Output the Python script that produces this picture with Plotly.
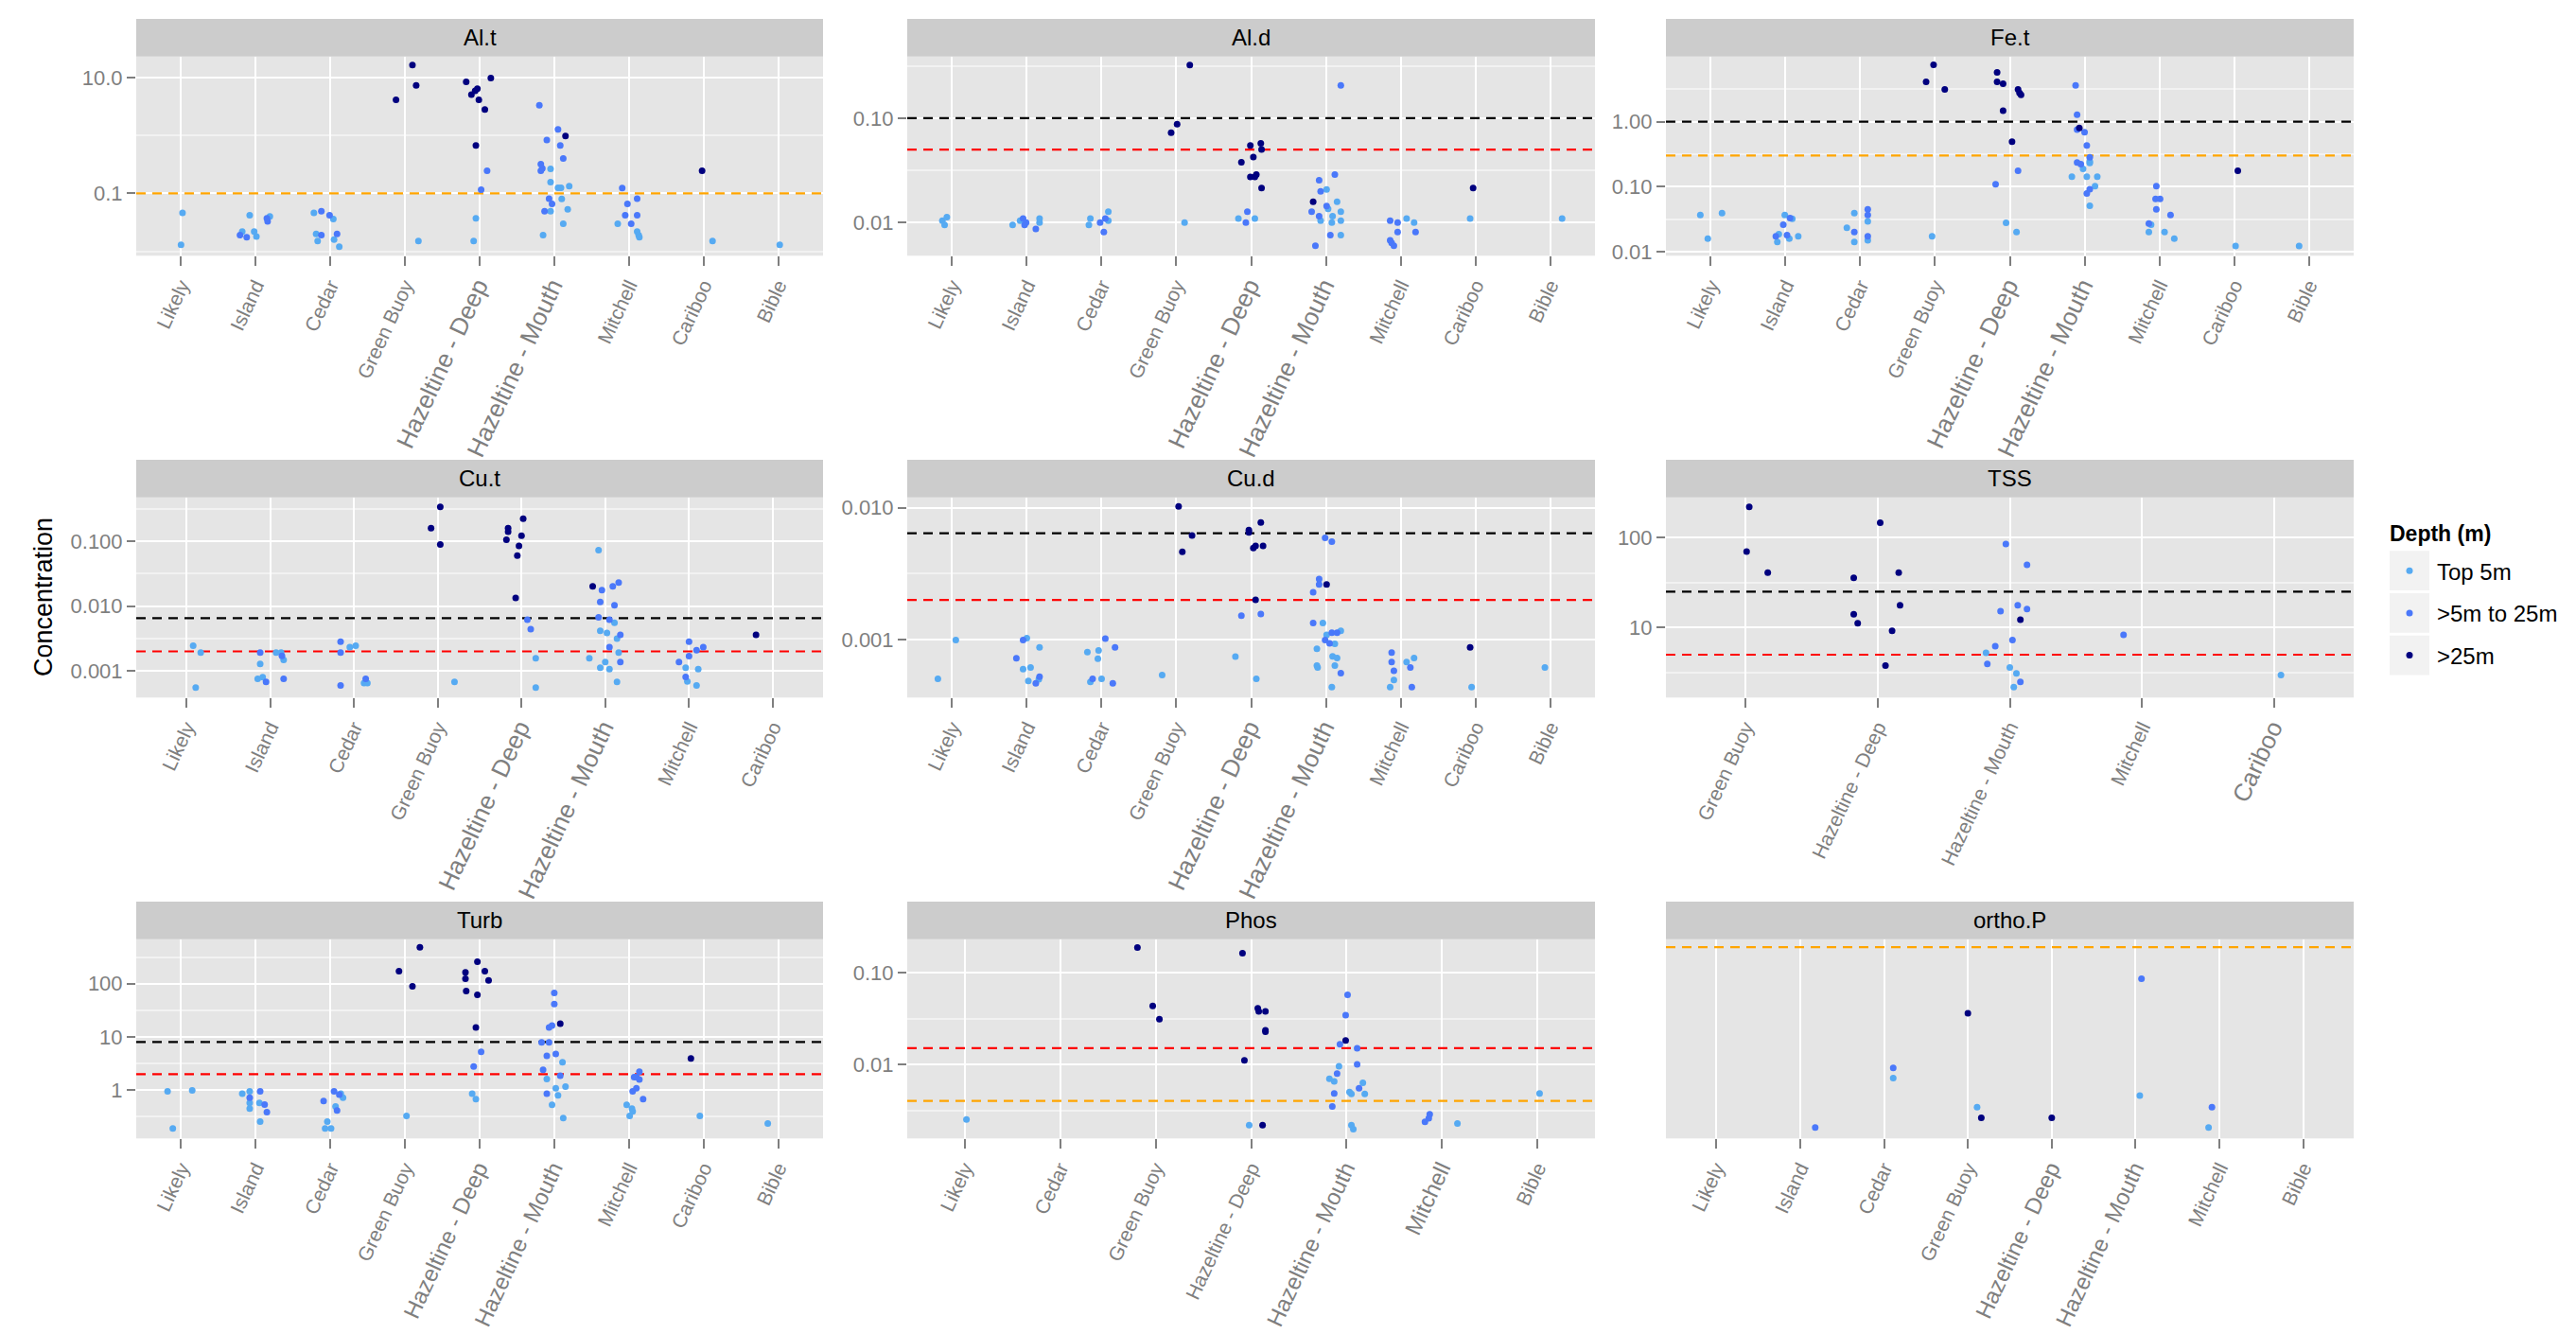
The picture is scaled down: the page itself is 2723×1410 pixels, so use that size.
import plotly.graph_objects as go

W, H = 2723, 1410
FONT = "Liberation Sans, Arial, sans-serif"
GRAY = "#7F7F7F"

# ---------------- data ----------------
SITES = ["Likely", "Island", "Cedar", "Green Buoy", "Hazeltine - Deep",
         "Hazeltine - Mouth", "Mitchell", "Cariboo", "Bible"]
DEPTHS = ["Top 5m", ">5m to 25m", ">25m"]
DEPTH_COLORS = ["#56AAF2", "#4A78FA", "#00007F"]

CATS_AL_T = SITES
CATS_AL_D = SITES
CATS_FE_T = SITES
CATS_CU_T = SITES[:8]
CATS_CU_D = SITES
CATS_TSS = ["Green Buoy", "Hazeltine - Deep", "Hazeltine - Mouth", "Mitchell", "Cariboo"]
CATS_TURB = SITES
CATS_PHOS = ["Likely", "Cedar", "Green Buoy", "Hazeltine - Deep", "Hazeltine - Mouth", "Mitchell", "Bible"]
CATS_ORTHO = ["Likely", "Island", "Cedar", "Green Buoy", "Hazeltine - Deep", "Hazeltine - Mouth", "Mitchell", "Bible"]

# points: (site index, jitter, value, depth index)
AL_T = [
    (0, 0.02, 0.046, 0), (0, 0.0, 0.013, 0),
    (1, -0.08, 0.042, 0), (1, -0.18, 0.022, 0), (1, -0.21, 0.019, 1), (1, -0.12, 0.0175, 1), (1, -0.02, 0.022, 0),
    (1, 0.01, 0.018, 0), (1, 0.15, 0.037, 1), (1, 0.16, 0.033, 1), (1, 0.19, 0.040, 0),
    (2, -0.22, 0.046, 0), (2, -0.12, 0.049, 1), (2, -0.01, 0.042, 1), (2, 0.04, 0.036, 0), (2, -0.19, 0.020, 0),
    (2, -0.12, 0.019, 1), (2, -0.17, 0.015, 0), (2, 0.05, 0.016, 0), (2, 0.09, 0.020, 1), (2, 0.12, 0.012, 0),
    (3, -0.12, 4.1, 2), (3, 0.10, 16.4, 2), (3, 0.15, 7.3, 2), (3, 0.18, 0.015, 0),
    (4, -0.18, 8.4, 2), (4, 0.15, 9.8, 2), (4, -0.03, 6.4, 2), (4, -0.06, 5.9, 2), (4, -0.11, 5.05, 2),
    (4, -0.01, 4.1, 2), (4, 0.07, 2.8, 2), (4, -0.05, 0.67, 2), (4, 0.10, 0.245, 1), (4, 0.02, 0.116, 1),
    (4, -0.05, 0.037, 0), (4, -0.08, 0.015, 0),
    (5, -0.20, 3.3, 1), (5, 0.05, 1.27, 1), (5, 0.15, 0.98, 2), (5, -0.10, 0.83, 1), (5, 0.08, 0.67, 1),
    (5, 0.12, 0.40, 1), (5, -0.18, 0.32, 1), (5, -0.16, 0.27, 1), (5, -0.18, 0.245, 1), (5, -0.05, 0.264, 0),
    (5, -0.05, 0.157, 0), (5, 0.05, 0.125, 0), (5, 0.09, 0.125, 0), (5, 0.20, 0.133, 0), (5, 0.10, 0.080, 0),
    (5, -0.07, 0.081, 1), (5, -0.03, 0.066, 1), (5, -0.13, 0.049, 1), (5, -0.05, 0.049, 0), (5, 0.18, 0.053, 0),
    (5, 0.12, 0.030, 0), (5, -0.15, 0.019, 0),
    (6, -0.09, 0.124, 1), (6, 0.11, 0.081, 1), (6, -0.02, 0.066, 1), (6, -0.05, 0.042, 1), (6, 0.11, 0.042, 1),
    (6, 0.03, 0.030, 1), (6, -0.15, 0.030, 0), (6, 0.11, 0.022, 0), (6, 0.13, 0.019, 0), (6, 0.14, 0.0175, 0),
    (7, -0.02, 0.245, 2), (7, 0.12, 0.015, 0),
    (8, 0.02, 0.013, 0),
]

AL_D = [
    (0, -0.13, 0.0104, 0), (0, -0.07, 0.0113, 0), (0, -0.10, 0.0095, 0),
    (1, -0.19, 0.0095, 0), (1, -0.09, 0.0104, 0), (1, -0.05, 0.0109, 1), (1, -0.03, 0.0095, 1), (1, -0.01, 0.0100, 1),
    (1, 0.12, 0.0087, 1), (1, 0.17, 0.0109, 0), (1, 0.17, 0.0100, 0),
    (2, -0.17, 0.0095, 0), (2, -0.15, 0.0109, 0), (2, -0.02, 0.0100, 1), (2, 0.03, 0.0081, 1), (2, 0.05, 0.0109, 1),
    (2, 0.09, 0.0127, 0), (2, 0.09, 0.0104, 0),
    (3, -0.07, 0.0728, 2), (3, 0.01, 0.0877, 2), (3, 0.18, 0.324, 2), (3, 0.11, 0.0100, 0),
    (4, -0.01, 0.0548, 2), (4, 0.13, 0.0575, 2), (4, 0.14, 0.0501, 2), (4, 0.03, 0.0425, 2), (4, -0.13, 0.0378, 2),
    (4, -0.01, 0.0274, 2), (4, 0.07, 0.0288, 2), (4, 0.05, 0.0274, 2), (4, 0.14, 0.0214, 2), (4, -0.05, 0.0127, 1),
    (4, -0.17, 0.0109, 0), (4, -0.07, 0.0100, 1), (4, 0.05, 0.0109, 0),
    (5, 0.20, 0.2065, 1), (5, 0.12, 0.0288, 1), (5, -0.09, 0.0254, 1), (5, 0.01, 0.0208, 0), (5, -0.07, 0.0199, 1),
    (5, -0.17, 0.0158, 2), (5, 0.15, 0.0158, 0), (5, 0.01, 0.0144, 1), (5, -0.19, 0.0127, 1), (5, 0.03, 0.0135, 0),
    (5, 0.20, 0.0127, 0), (5, -0.09, 0.0115, 1), (5, 0.09, 0.0115, 0), (5, -0.07, 0.0104, 0), (5, 0.08, 0.0100, 0),
    (5, 0.20, 0.0104, 0), (5, 0.06, 0.0076, 1), (5, 0.20, 0.0076, 0), (5, -0.14, 0.0060, 1),
    (6, -0.14, 0.0104, 1), (6, -0.04, 0.0100, 1), (6, 0.08, 0.0109, 0), (6, 0.18, 0.0100, 0), (6, -0.04, 0.0081, 1),
    (6, 0.20, 0.0081, 1), (6, -0.14, 0.00675, 1), (6, -0.12, 0.00638, 1), (6, -0.09, 0.0060, 1),
    (7, -0.03, 0.0214, 2), (7, -0.07, 0.0109, 0),
    (8, 0.16, 0.0109, 0),
]

FE_T = [
    (0, -0.14, 0.0366, 0), (0, -0.04, 0.0158, 0), (0, 0.15, 0.0391, 0),
    (1, -0.13, 0.0172, 1), (1, -0.09, 0.0186, 0), (1, -0.11, 0.0141, 0), (1, -0.03, 0.0260, 1), (1, -0.01, 0.0366, 0),
    (1, 0.02, 0.0180, 1), (1, 0.05, 0.0158, 0), (1, 0.06, 0.0328, 1), (1, 0.09, 0.0321, 0), (1, 0.17, 0.0172, 0),
    (2, -0.18, 0.0232, 0), (2, -0.08, 0.0201, 1), (2, -0.08, 0.0391, 0), (2, -0.08, 0.0141, 0), (2, 0.10, 0.0448, 1),
    (2, 0.10, 0.0366, 1), (2, 0.10, 0.0293, 0), (2, 0.10, 0.0172, 1), (2, 0.10, 0.0149, 0),
    (3, -0.12, 4.09, 2), (3, -0.02, 7.45, 2), (3, 0.13, 3.14, 2), (3, -0.04, 0.0172, 0),
    (4, -0.17, 5.71, 2), (4, -0.17, 4.09, 2), (4, -0.09, 3.83, 2), (4, 0.11, 3.14, 2), (4, 0.13, 2.75, 2),
    (4, 0.15, 2.57, 2), (4, -0.09, 1.47, 2), (4, 0.03, 0.492, 2), (4, -0.19, 0.109, 1), (4, 0.11, 0.175, 1),
    (4, -0.05, 0.0277, 0), (4, 0.09, 0.0201, 0),
    (5, -0.12, 3.62, 1), (5, -0.10, 1.28, 1), (5, -0.07, 0.80, 2), (5, -0.10, 0.75, 1), (5, 0.0, 0.686, 1),
    (5, 0.03, 0.430, 1), (5, 0.07, 0.282, 1), (5, 0.07, 0.244, 0), (5, -0.10, 0.236, 1), (5, -0.05, 0.221, 1),
    (5, 0.07, 0.231, 0), (5, -0.02, 0.187, 0), (5, -0.17, 0.142, 0), (5, 0.03, 0.142, 0), (5, 0.17, 0.142, 0),
    (5, 0.14, 0.1017, 0), (5, 0.07, 0.091, 1), (5, 0.03, 0.0787, 1), (5, 0.07, 0.0506, 0),
    (6, -0.04, 0.1017, 1), (6, -0.05, 0.0645, 1), (6, 0.01, 0.0645, 1), (6, -0.04, 0.0448, 1), (6, 0.15, 0.0366, 1),
    (6, -0.11, 0.0260, 0), (6, -0.14, 0.0270, 1), (6, -0.14, 0.0201, 0), (6, 0.07, 0.0201, 0), (6, 0.20, 0.0158, 0),
    (7, 0.05, 0.175, 2), (7, 0.02, 0.0122, 0),
    (8, -0.13, 0.0122, 0),
]

CU_T = [
    (0, 0.08, 0.00244, 0), (0, 0.17, 0.00191, 0), (0, 0.11, 0.000553, 0),
    (1, -0.12, 0.00191, 1), (1, -0.12, 0.00128, 0), (1, -0.15, 0.000757, 0), (1, -0.09, 0.00080, 0),
    (1, -0.05, 0.000677, 1), (1, 0.07, 0.00191, 0), (1, 0.13, 0.00191, 0), (1, 0.14, 0.00171, 1),
    (1, 0.16, 0.00148, 0), (1, 0.16, 0.000757, 1),
    (2, -0.16, 0.00282, 1), (2, -0.16, 0.00191, 1), (2, -0.16, 0.000598, 1), (2, -0.05, 0.00233, 0),
    (2, 0.02, 0.00244, 0), (2, 0.14, 0.000757, 1), (2, 0.12, 0.000647, 0), (2, 0.16, 0.000647, 0),
    (3, -0.08, 0.160, 2), (3, 0.03, 0.341, 2), (3, 0.03, 0.0895, 2), (3, 0.20, 0.000677, 0),
    (4, 0.02, 0.223, 2), (4, -0.16, 0.160, 2), (4, -0.16, 0.140, 2), (4, 0.0, 0.122, 2), (4, -0.18, 0.106, 2),
    (4, -0.03, 0.0846, 2), (4, -0.05, 0.0599, 2), (4, -0.07, 0.0134, 2), (4, 0.07, 0.00615, 1),
    (4, 0.11, 0.00440, 1), (4, 0.17, 0.00156, 0), (4, 0.17, 0.000553, 0),
    (5, -0.08, 0.0732, 0), (5, -0.15, 0.0201, 2), (5, -0.04, 0.0176, 1), (5, 0.09, 0.0201, 1), (5, 0.16, 0.0230, 1),
    (5, -0.06, 0.0116, 1), (5, 0.11, 0.0103, 1), (5, -0.08, 0.00673, 1), (5, 0.05, 0.00615, 1),
    (5, 0.11, 0.00551, 0), (5, -0.06, 0.00417, 0), (5, 0.02, 0.00386, 0), (5, 0.18, 0.00361, 1),
    (5, 0.14, 0.00316, 0), (5, 0.05, 0.00233, 1), (5, 0.16, 0.00191, 0), (5, -0.19, 0.00156, 0),
    (5, 0.0, 0.00137, 0), (5, 0.18, 0.00137, 1), (5, -0.06, 0.00112, 0), (5, 0.05, 0.00106, 0),
    (5, 0.14, 0.000677, 0),
    (6, 0.0, 0.00282, 1), (6, 0.09, 0.00209, 1), (6, 0.17, 0.00233, 1), (6, 0.0, 0.00169, 1),
    (6, -0.12, 0.00137, 1), (6, -0.04, 0.00112, 0), (6, 0.11, 0.00106, 0), (6, -0.04, 0.000809, 1),
    (6, -0.02, 0.000685, 0), (6, 0.09, 0.000598, 0),
    (7, -0.20, 0.00361, 2),
]

CU_D = [
    (0, -0.19, 0.000507, 0), (0, 0.05, 0.000995, 0),
    (1, -0.14, 0.000725, 1), (1, -0.05, 0.000995, 1), (1, 0.0, 0.00103, 0), (1, -0.05, 0.000601, 0),
    (1, 0.05, 0.000618, 0), (1, 0.17, 0.000877, 0), (1, 0.17, 0.000525, 1), (1, 0.02, 0.000489, 0),
    (1, 0.12, 0.000468, 1), (1, 0.16, 0.000502, 0),
    (2, -0.19, 0.000807, 0), (2, -0.04, 0.000830, 0), (2, -0.05, 0.000720, 0), (2, 0.05, 0.00102, 1),
    (2, 0.18, 0.000877, 1), (2, -0.15, 0.000481, 0), (2, -0.12, 0.000507, 1), (2, 0.0, 0.000507, 0),
    (2, 0.15, 0.000468, 1),
    (3, 0.03, 0.0102, 2), (3, 0.21, 0.00615, 2), (3, 0.08, 0.00463, 2), (3, -0.19, 0.000542, 0),
    (4, -0.03, 0.00678, 2), (4, -0.03, 0.00649, 2), (4, 0.13, 0.00773, 2), (4, 0.03, 0.00494, 2),
    (4, 0.06, 0.00513, 2), (4, 0.16, 0.00513, 2), (4, 0.06, 0.00201, 2), (4, -0.13, 0.00152, 1),
    (4, 0.13, 0.00157, 1), (4, -0.21, 0.000748, 0), (4, 0.07, 0.000507, 0),
    (5, -0.01, 0.00591, 1), (5, 0.08, 0.00554, 1), (5, 0.01, 0.00262, 2), (5, -0.09, 0.00289, 1),
    (5, -0.09, 0.00262, 1), (5, -0.17, 0.00229, 1), (5, -0.17, 0.00134, 1), (5, -0.04, 0.00134, 0),
    (5, 0.01, 0.00109, 0), (5, 0.08, 0.00113, 1), (5, 0.15, 0.00113, 1), (5, 0.20, 0.00117, 0),
    (5, -0.01, 0.000995, 1), (5, 0.05, 0.000942, 1), (5, 0.12, 0.000931, 0), (5, -0.12, 0.000857, 0),
    (5, 0.09, 0.000751, 0), (5, 0.15, 0.000727, 0), (5, -0.12, 0.000638, 0), (5, -0.11, 0.000618, 0),
    (5, 0.12, 0.000638, 0), (5, 0.20, 0.000560, 1), (5, 0.08, 0.000438, 0),
    (6, -0.12, 0.000800, 1), (6, -0.12, 0.000678, 1), (6, -0.09, 0.000582, 1), (6, -0.09, 0.000497, 0),
    (6, -0.14, 0.000438, 0), (6, 0.08, 0.000678, 0), (6, 0.13, 0.000618, 1), (6, 0.18, 0.000727, 0),
    (6, 0.15, 0.000438, 1),
    (7, -0.07, 0.000877, 2), (7, -0.05, 0.000438, 0),
    (8, -0.07, 0.000618, 0),
]

TSS = [
    (0, 0.03, 219, 2), (0, 0.01, 69.7, 2), (0, 0.17, 40.7, 2),
    (1, 0.02, 146, 2), (1, -0.18, 35.6, 2), (1, 0.16, 40.7, 2), (1, 0.17, 17.7, 2), (1, -0.18, 14.1, 2),
    (1, -0.15, 11.2, 2), (1, 0.11, 9.23, 2), (1, 0.06, 3.79, 2),
    (2, -0.03, 84.5, 1), (2, 0.13, 49.8, 1), (2, 0.06, 17.7, 1), (2, 0.13, 16.1, 1), (2, -0.07, 15.2, 1),
    (2, 0.08, 12.2, 2), (2, 0.02, 7.26, 1), (2, -0.11, 6.22, 1), (2, -0.18, 5.26, 0), (2, -0.17, 3.94, 1),
    (2, 0.0, 3.61, 0), (2, 0.05, 3.10, 0), (2, 0.08, 2.49, 1), (2, 0.03, 2.18, 0),
    (3, -0.14, 8.32, 1),
    (4, 0.05, 2.98, 0),
]

TURB = [
    (0, -0.18, 0.946, 0), (0, 0.15, 0.986, 0), (0, -0.11, 0.191, 0),
    (1, -0.18, 0.861, 0), (1, -0.08, 0.946, 0), (1, -0.08, 0.722, 1), (1, -0.08, 0.573, 0), (1, -0.08, 0.449, 0),
    (1, 0.06, 0.946, 1), (1, 0.05, 0.573, 0), (1, 0.12, 0.536, 1), (1, 0.15, 0.386, 1), (1, 0.06, 0.257, 0),
    (2, -0.09, 0.622, 1), (2, 0.05, 0.946, 1), (2, 0.12, 0.826, 1), (2, 0.14, 0.861, 0), (2, 0.17, 0.722, 0),
    (2, 0.07, 0.493, 0), (2, 0.09, 0.414, 1), (2, -0.04, 0.257, 0), (2, -0.07, 0.191, 0), (2, 0.01, 0.191, 0),
    (3, -0.08, 172, 2), (3, 0.20, 483, 2), (3, 0.10, 89.7, 2), (3, 0.02, 0.328, 0),
    (4, -0.03, 259, 2), (4, -0.19, 163, 2), (4, 0.07, 172, 2), (4, -0.19, 124, 2), (4, 0.12, 116, 2),
    (4, -0.18, 73.2, 2), (4, -0.03, 62.2, 2), (4, -0.05, 15.1, 2), (4, 0.02, 5.25, 1), (4, -0.08, 2.77, 1),
    (4, -0.10, 0.861, 0), (4, -0.05, 0.675, 0),
    (5, 0.0, 67.5, 1), (5, 0.0, 41.4, 1), (5, 0.08, 17.8, 2), (5, -0.07, 15.1, 1), (5, -0.03, 16.4, 1),
    (5, -0.17, 7.89, 1), (5, -0.07, 7.89, 1), (5, -0.10, 4.40, 1), (5, 0.02, 4.77, 1), (5, 0.11, 3.35, 0),
    (5, -0.15, 2.42, 1), (5, 0.08, 1.87, 1), (5, -0.10, 1.61, 0), (5, 0.02, 1.08, 0), (5, 0.15, 1.16, 0),
    (5, -0.10, 0.861, 1), (5, 0.05, 0.794, 0), (5, -0.03, 0.528, 0), (5, 0.12, 0.298, 0),
    (6, 0.14, 2.23, 1), (6, 0.10, 1.75, 1), (6, 0.14, 1.59, 1), (6, 0.07, 1.75, 1), (6, 0.10, 1.08, 1),
    (6, 0.05, 0.946, 1), (6, 0.19, 0.675, 1), (6, -0.03, 0.528, 0), (6, 0.04, 0.449, 0), (6, 0.05, 0.397, 0),
    (6, 0.01, 0.328, 0),
    (7, -0.17, 3.94, 2), (7, -0.05, 0.328, 0),
    (8, -0.14, 0.237, 0),
]

PHOS = [
    (0, 0.02, 0.00250, 0),
    (2, -0.19, 0.188, 2), (2, -0.03, 0.0434, 2), (2, 0.04, 0.0311, 2),
    (3, -0.09, 0.163, 2), (3, 0.07, 0.0410, 2), (3, 0.08, 0.0379, 2), (3, 0.15, 0.0379, 2), (3, 0.15, 0.0236, 2),
    (3, 0.15, 0.0227, 2), (3, -0.07, 0.0111, 2), (3, -0.02, 0.00217, 0), (3, 0.12, 0.00217, 2),
    (4, 0.01, 0.0575, 1), (4, -0.01, 0.0345, 1), (4, -0.01, 0.0182, 2), (4, -0.07, 0.0166, 1), (4, 0.11, 0.0150, 1),
    (4, -0.08, 0.00953, 0), (4, 0.11, 0.0100, 1), (4, -0.10, 0.00796, 1), (4, -0.18, 0.00696, 0),
    (4, -0.13, 0.00653, 0), (4, 0.17, 0.00628, 0), (4, 0.13, 0.00549, 1), (4, 0.03, 0.00500, 0),
    (4, 0.05, 0.00477, 0), (4, 0.19, 0.00477, 0), (4, -0.13, 0.00481, 1), (4, -0.15, 0.00348, 1),
    (4, 0.05, 0.00217, 0), (4, 0.07, 0.00197, 0),
    (5, -0.13, 0.00285, 1), (5, -0.14, 0.00259, 1), (5, -0.18, 0.00236, 1), (5, 0.16, 0.00227, 0),
    (6, 0.02, 0.00481, 0),
]

ORTHO_P = [
    (1, 0.18, 0.00124, 1),
    (2, 0.11, 0.00166, 1), (2, 0.11, 0.00158, 0),
    (3, 0.0, 0.00217, 2), (3, 0.11, 0.00137, 0), (3, 0.16, 0.00130, 2),
    (4, 0.0, 0.00130, 2),
    (5, 0.07, 0.00257, 1), (5, 0.05, 0.00145, 0),
    (6, -0.09, 0.00137, 1), (6, -0.13, 0.00124, 0),
]

# guideline values: (value, colour key)
GUIDES_AL_T = [(0.1, "o")]
GUIDES_AL_D = [(0.1, "k"), (0.05, "r")]
GUIDES_FE_T = [(1.0, "k"), (0.3, "o")]
GUIDES_CU_T = [(0.0065, "k"), (0.002, "r")]
GUIDES_CU_D = [(0.0064, "k"), (0.002, "r")]
GUIDES_TSS = [(25, "k"), (5, "r")]
GUIDES_TURB = [(8, "k"), (2, "r")]
GUIDES_PHOS = [(0.015, "r"), (0.004, "o")]
GUIDES_ORTHO = [(0.003, "o")]

# y tick labels
YT_AL_T, YTT_AL_T, YM_AL_T = [0.1, 10], ["0.1", "10.0"], [0.01, 1]
YT_AL_D, YTT_AL_D, YM_AL_D = [0.01, 0.1], ["0.01", "0.10"], [0.0316, 0.316]
YT_FE_T, YTT_FE_T, YM_FE_T = [0.01, 0.1, 1], ["0.01", "0.10", "1.00"], [0.0316, 0.316, 3.16]
YT_CU_T, YTT_CU_T, YM_CU_T = [0.001, 0.01, 0.1], ["0.001", "0.010", "0.100"], [0.00316, 0.0316, 0.316]
YT_CU_D, YTT_CU_D, YM_CU_D = [0.001, 0.01], ["0.001", "0.010"], [0.00316]
YT_TSS, YTT_TSS, YM_TSS = [10, 100], ["10", "100"], [3.16, 31.6]
YT_TURB, YTT_TURB, YM_TURB = [1, 10, 100], ["1", "10", "100"], [0.316, 3.16, 31.6, 316]
YT_PHOS, YTT_PHOS, YM_PHOS = [0.01, 0.1], ["0.01", "0.10"], [0.00316, 0.0316]
YT_ORTHO, YTT_ORTHO, YM_ORTHO = [], [], []

# ---------------- style / layout ----------------
GUIDE_COLORS = {"k": "#000000", "r": "#FF0000", "o": "#FFA500"}
COLS = [(136, 862), (951, 1678), (1753, 2480)]
ROWS = [(51, 263), (520, 733), (990, 1202)]
STRIP_H = 40
Y_RANGES = [[-2.076, 1.362], [-2.318, -0.408], [-2.063, 1.002],
            [-3.412, -0.322], [-3.437, -1.922], [0.223, 2.446],
            [-0.909, 2.838], [-2.808, -0.634], [-2.930, -2.506]]
BIG_LABELS = [
    ["Hazeltine - Deep", "Hazeltine - Mouth"], ["Hazeltine - Deep", "Hazeltine - Mouth"],
    ["Hazeltine - Deep", "Hazeltine - Mouth"], ["Hazeltine - Deep", "Hazeltine - Mouth"],
    ["Hazeltine - Deep", "Hazeltine - Mouth"], ["Cariboo"],
    ["Hazeltine - Deep", "Hazeltine - Mouth"], ["Hazeltine - Mouth", "Mitchell"],
    ["Hazeltine - Deep", "Hazeltine - Mouth"],
]
BIG_SIZE_BY_ROW = [26, 26, 24]

panels = [
    ("Al.t", CATS_AL_T, AL_T, GUIDES_AL_T, YT_AL_T, YTT_AL_T, YM_AL_T),
    ("Al.d", CATS_AL_D, AL_D, GUIDES_AL_D, YT_AL_D, YTT_AL_D, YM_AL_D),
    ("Fe.t", CATS_FE_T, FE_T, GUIDES_FE_T, YT_FE_T, YTT_FE_T, YM_FE_T),
    ("Cu.t", CATS_CU_T, CU_T, GUIDES_CU_T, YT_CU_T, YTT_CU_T, YM_CU_T),
    ("Cu.d", CATS_CU_D, CU_D, GUIDES_CU_D, YT_CU_D, YTT_CU_D, YM_CU_D),
    ("TSS", CATS_TSS, TSS, GUIDES_TSS, YT_TSS, YTT_TSS, YM_TSS),
    ("Turb", CATS_TURB, TURB, GUIDES_TURB, YT_TURB, YTT_TURB, YM_TURB),
    ("Phos", CATS_PHOS, PHOS, GUIDES_PHOS, YT_PHOS, YTT_PHOS, YM_PHOS),
    ("ortho.P", CATS_ORTHO, ORTHO_P, GUIDES_ORTHO, YT_ORTHO, YTT_ORTHO, YM_ORTHO),
]


def xf(px):
    return px / W


def yf(py):
    return 1 - py / H


fig = go.Figure()
layout = dict(
    width=W, height=H, margin=dict(l=0, r=0, t=0, b=0),
    paper_bgcolor="white", plot_bgcolor="#E5E5E5", showlegend=False,
    font=dict(family=FONT), shapes=[], annotations=[],
)

for i, (name, cats, pts, guides, yt, ytt, ym) in enumerate(panels):
    r, c = divmod(i, 3)
    sfx = "" if i == 0 else str(i + 1)
    xref, yref = "x" + sfx, "y" + sfx
    n = len(cats)
    c0, c1 = COLS[c]
    r0, r1 = ROWS[r]

    for v, ck in guides:
        fig.add_trace(go.Scatter(
            x=[-0.6, n - 0.4], y=[v, v], mode="lines",
            line=dict(color=GUIDE_COLORS[ck], width=2.2, dash="10px,7px"),
            xaxis=xref, yaxis=yref, hoverinfo="skip", showlegend=False))

    for d in range(3):
        sel = [p for p in pts if p[3] == d]
        if not sel:
            continue
        fig.add_trace(go.Scatter(
            x=[p[0] + p[1] for p in sel], y=[p[2] for p in sel], mode="markers",
            marker=dict(size=7, color=DEPTH_COLORS[d], line=dict(width=0)),
            name=DEPTHS[d], xaxis=xref, yaxis=yref, showlegend=False))

    ticktext = []
    for lab in cats:
        if lab in BIG_LABELS[i]:
            ticktext.append('<span style="font-size:%dpx">%s</span>' % (BIG_SIZE_BY_ROW[r], lab))
        else:
            ticktext.append(lab)

    layout["xaxis" + sfx] = dict(
        domain=[xf(c0), xf(c1)], range=[-0.6, n - 0.4], anchor=yref,
        tickmode="array", tickvals=list(range(n)), ticktext=ticktext, tickangle=-65,
        ticks="outside", ticklen=10, tickwidth=2, tickcolor=GRAY,
        showgrid=True, gridcolor="white", gridwidth=2, zeroline=False, showline=False,
        tickfont=dict(size=21, color=GRAY, family=FONT), fixedrange=True)

    yax = dict(
        domain=[yf(r1), yf(r0)], type="log", range=Y_RANGES[i], anchor=xref,
        zeroline=False, showline=False, fixedrange=True,
        tickfont=dict(size=22, color=GRAY, family=FONT))
    if yt:
        yax.update(tickmode="array", tickvals=yt, ticktext=ytt, ticks="outside",
                   ticklen=9, tickwidth=2, tickcolor=GRAY,
                   showgrid=True, gridcolor="white", gridwidth=2,
                   minor=dict(tickmode="array", tickvals=ym, showgrid=True,
                              gridcolor="#F2F2F2", gridwidth=1.5, ticks=""))
    else:
        yax.update(showticklabels=False, ticks="", showgrid=False,
                   minor=dict(showgrid=False, ticks=""))
    layout["yaxis" + sfx] = yax

    # strip
    layout["shapes"].append(dict(
        type="rect", xref="paper", yref="paper", x0=xf(c0), x1=xf(c1),
        y0=yf(r0), y1=yf(r0 - STRIP_H), fillcolor="#CCCCCC", line=dict(width=0), layer="below"))
    layout["annotations"].append(dict(
        text=name, xref="paper", yref="paper", x=xf((c0 + c1) / 2), y=yf(r0 - STRIP_H / 2),
        showarrow=False, xanchor="center", yanchor="middle",
        font=dict(size=24, color="black", family=FONT)))

# y axis title
layout["annotations"].append(dict(
    text="Concentration", xref="paper", yref="paper", x=xf(38), y=yf(626),
    textangle=-90, showarrow=False, xanchor="center", yanchor="middle",
    font=dict(size=27, color="black", family=FONT)))

# legend (manual)
layout["annotations"].append(dict(
    text="<b>Depth (m)</b>", xref="paper", yref="paper", x=xf(2516), y=yf(559),
    showarrow=False, xanchor="left", yanchor="middle",
    font=dict(size=23, color="black", family=FONT)))
key_tops = [577, 622, 667]
for k, top in enumerate(key_tops):
    layout["shapes"].append(dict(
        type="rect", xref="paper", yref="paper", x0=xf(2518), x1=xf(2560),
        y0=yf(top + 42), y1=yf(top), fillcolor="#F2F2F2", line=dict(width=0)))
    layout["shapes"].append(dict(
        type="circle", xref="paper", yref="paper", xsizemode="pixel", ysizemode="pixel",
        xanchor=xf(2539), yanchor=yf(top + 21), x0=-3.5, x1=3.5, y0=-3.5, y1=3.5,
        fillcolor=DEPTH_COLORS[k], line=dict(width=0)))
    layout["annotations"].append(dict(
        text=DEPTHS[k], xref="paper", yref="paper", x=xf(2566), y=yf(top + 22),
        showarrow=False, xanchor="left", yanchor="middle",
        font=dict(size=24, color="black", family=FONT)))

fig.update_layout(**layout)
fig.write_html("out.html")
